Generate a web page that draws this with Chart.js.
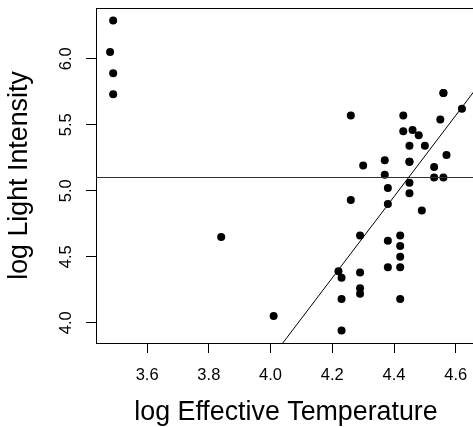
<!DOCTYPE html>
<html>
<head>
<meta charset="utf-8">
<script src="https://cdn.jsdelivr.net/npm/chart.js@4/dist/chart.umd.min.js"></script>
<style>
  html, body { margin: 0; padding: 0; background: #fff; overflow: hidden; width: 473px; height: 427px; }
  canvas { display: block; }
</style>
</head>
<body>
<canvas id="c" width="480" height="427"></canvas>
<script>
// Star cluster CYG OB1 data
const logTe = [4.37,4.56,4.26,4.56,4.30,4.46,3.84,4.57,4.26,4.37,3.49,4.43,4.48,4.01,4.29,4.42,4.23,4.42,4.23,3.49,4.29,4.29,4.42,4.49,4.38,4.42,4.29,4.38,4.22,3.48,4.38,4.56,4.45,3.49,4.23,4.62,4.53,4.45,4.53,4.43,4.38,4.45,4.50,4.45,4.55,4.45,4.42];
const logLight = [5.23,5.74,4.93,5.74,5.19,5.46,4.65,5.27,5.57,5.12,5.73,5.45,5.42,4.05,4.26,4.58,3.94,4.18,4.18,5.89,4.38,4.22,4.42,4.85,5.02,4.66,4.66,4.90,4.39,6.05,4.42,5.10,5.22,6.29,4.34,5.62,5.10,5.22,5.18,5.57,4.62,5.06,5.34,5.34,5.54,4.98,4.50];
const xTicks = [3.6, 3.8, 4.0, 4.2, 4.4, 4.6];
const yTicks = [4.0, 4.5, 5.0, 5.5, 6.0];
// fitted lines
const fitIntercept = -8.584;
const fitSlope = 3.077;
const hLineLevel = 5.1;

const xMin = 3.4344, xMax = 4.6656;
const yMin = 3.846, yMax = 6.384;

const FONT = "'Liberation Sans', Arial, Helvetica, sans-serif";

const points = logTe.map((x, i) => ({x: x, y: logLight[i]}));
const fitLine = [xMin, xMax].map(x => ({x: x, y: fitIntercept + fitSlope * x}));
const hLine = [xMin, xMax].map(x => ({x: x, y: hLineLevel}));

const boxPlugin = {
  id: 'box',
  afterDraw(chart) {
    const {ctx, chartArea: a} = chart;
    ctx.save();
    ctx.strokeStyle = '#000';
    ctx.lineWidth = 1;
    ctx.beginPath();
    ctx.moveTo(Math.round(a.left) + 0.5, Math.round(a.top) + 0.5);
    ctx.lineTo(Math.round(a.right) + 0.5, Math.round(a.top) + 0.5);
    ctx.lineTo(Math.round(a.right) + 0.5, Math.round(a.bottom) + 0.5);
    ctx.stroke();
    ctx.restore();
  }
};

new Chart(document.getElementById('c'), {
  type: 'scatter',
  data: {
    datasets: [
      {
        type: 'line', data: fitLine, borderColor: '#000', borderWidth: 1,
        pointRadius: 0, fill: false, tension: 0
      },
      {
        type: 'line', data: hLine, borderColor: '#333', borderWidth: 1.2,
        pointRadius: 0, fill: false, tension: 0
      },
      {
        data: points, backgroundColor: '#000', borderColor: '#000', borderWidth: 0,
        pointRadius: 4, pointHoverRadius: 4
      }
    ]
  },
  plugins: [boxPlugin],
  options: {
    responsive: false,
    animation: false,
    events: [],
    layout: { padding: { top: 8, right: 3, left: 0, bottom: 0 } },
    plugins: { legend: { display: false }, tooltip: { enabled: false } },
    scales: {
      x: {
        type: 'linear', min: xMin, max: xMax,
        afterBuildTicks: s => { s.ticks = xTicks.map(v => ({value: v})); },
        afterFit: s => { s.height = 84; s.paddingLeft = 0; s.paddingRight = 0; },
        grid: { drawOnChartArea: false, drawTicks: true, tickLength: 10, color: '#000', tickColor: '#000' },
        border: { display: true, color: '#000', width: 1 },
        ticks: {
          padding: 14, color: '#000', maxRotation: 0, minRotation: 0,
          font: { family: FONT, size: 16.5, lineHeight: 1 },
          callback: v => Number(v).toFixed(1)
        },
        title: {
          display: true, text: 'log Effective Temperature', color: '#000',
          font: { family: FONT, size: 26.8, lineHeight: 1 },
          padding: { top: 0, bottom: 1 }
        }
      },
      y: {
        type: 'linear', min: yMin, max: yMax,
        afterBuildTicks: s => { s.ticks = yTicks.map(v => ({value: v})); },
        afterFit: s => { s.width = 96; s.paddingTop = 0; s.paddingBottom = 0; },
        grid: { drawOnChartArea: false, drawTicks: true, tickLength: 10, color: '#000', tickColor: '#000' },
        border: { display: true, color: '#000', width: 1 },
        ticks: {
          padding: 8, color: '#000', minRotation: 90, maxRotation: 90, crossAlign: 'center',
          font: { family: FONT, size: 16.5, lineHeight: 1 },
          callback: v => Number(v).toFixed(1)
        },
        title: {
          display: true, text: 'log Light Intensity', color: '#000',
          font: { family: FONT, size: 26.8, lineHeight: 1 },
          padding: { top: 6.5, bottom: 0 }
        }
      }
    }
  }
});
</script>
</body>
</html>
